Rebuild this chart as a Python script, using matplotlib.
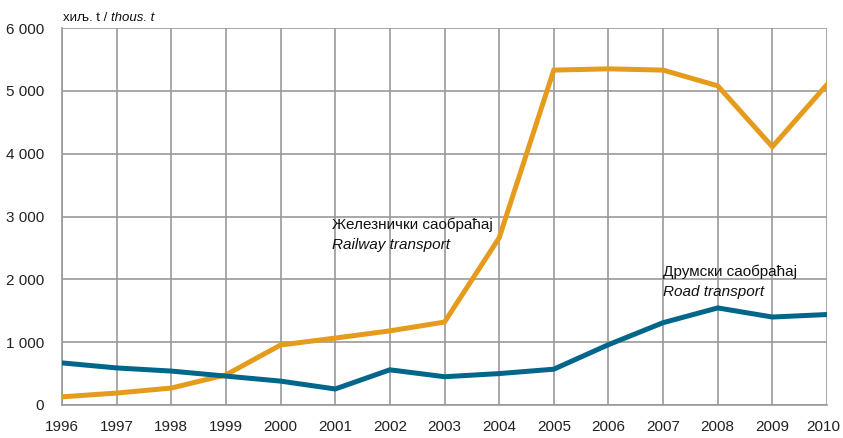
import matplotlib.pyplot as plt
import matplotlib.transforms as mtransforms
import numpy as np

plt.rcParams['font.family'] = ['Liberation Sans', 'DejaVu Sans']

years = list(range(1996, 2011))
railway = [130, 190, 270, 480, 955, 1065, 1180, 1320, 2660, 5330, 5350, 5330, 5080, 4110, 5100]
road = [670, 590, 540, 460, 380, 255, 560, 450, 500, 570, 960, 1310, 1545, 1400, 1440]
yticks = [0, 1000, 2000, 3000, 4000, 5000, 6000]
ytick_labels = ['0', '1 000', '2 000', '3 000', '4 000', '5 000', '6 000']

orange = '#E59B1C'
blue = '#00668A'
grid = '#999999'

fig = plt.figure(figsize=(8.43, 4.38), dpi=100)
ax = fig.add_axes([62 / 843, 1 - 405 / 438, (827 - 62) / 843, (405 - 28) / 438])

ax.plot(years, railway, color=orange, linewidth=3.6, solid_joinstyle='miter', zorder=3)
ax.plot(years, road, color=blue, linewidth=3.6, solid_joinstyle='miter', zorder=3)

ax.set_xlim(1996, 2010)
ax.set_ylim(0, 6000)
ax.set_xticks(years)
ax.set_xticklabels([str(y) for y in years], fontsize=11)
ax.set_yticks(yticks)
ax.set_yticklabels(ytick_labels, fontsize=11)
ax.tick_params(length=0, colors='#222222')
ax.tick_params(axis='x', pad=11)
ax.tick_params(axis='y', pad=13)
# nudge the last year label left so it stays inside the picture
last = ax.get_xticklabels()[-1]
last.set_transform(mtransforms.offset_copy(last.get_transform(), fig, x=-4, units='dots'))
ax.grid(True, color=grid, linewidth=1.2)
ax.set_axisbelow(True)
for side in ['top', 'right']:
    ax.spines[side].set_visible(False)
for side in ['left', 'bottom']:
    ax.spines[side].set_color(grid)
    ax.spines[side].set_linewidth(1.2)

# Series labels
ax.text(2000.95, 2870, 'Железнички саобраћај', fontsize=11, va='center', ha='left', color='#111111')
ax.text(2000.95, 2550, 'Railway transport', fontsize=11, va='center', ha='left', style='italic', color='#111111')
ax.text(2007.0, 2120, 'Друмски саобраћај', fontsize=11, va='center', ha='left', color='#111111')
ax.text(2007.0, 1800, 'Road transport', fontsize=11, va='center', ha='left', style='italic', color='#111111')

# Unit label
t1 = fig.text(63 / 843, 1 - 18 / 438, 'хиљ. t / ', fontsize=9.5, va='center', ha='left', color='#111111')
fig.canvas.draw()
bb = t1.get_window_extent()
fig.text(bb.x1 / fig.bbox.width, 1 - 18 / 438, 'thous. t', fontsize=9.5, va='center', ha='left',
         style='italic', color='#111111')

fig.savefig('out.png', dpi=100)
